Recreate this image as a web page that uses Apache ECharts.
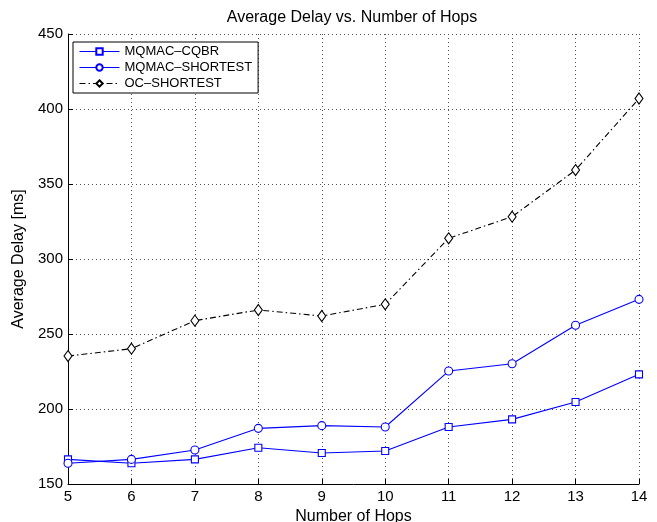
<!DOCTYPE html>
<html>
<head>
<meta charset="utf-8">
<script src="https://cdn.jsdelivr.net/npm/echarts@6/dist/echarts.min.js"></script>
<style>
  html, body { margin: 0; padding: 0; background: #fff; }
  #chart { width: 657px; height: 522px; }
</style>
</head>
<body>
<div id="chart"></div>
<script>
// Number of hops on the x axis
const hops = [5, 6, 7, 8, 9, 10, 11, 12, 13, 14];

// Average delay in ms for each scheme
const mqmacCqbr = [166.4, 163.8, 166.4, 174.2, 170.7, 172.0, 188.0, 193.1, 204.7, 223.1];
const mqmacShortest = [163.8, 166.4, 172.7, 187.1, 188.9, 188.0, 225.3, 230.2, 255.8, 273.1];
const ocShortest = [235.3, 240.2, 258.9, 266.0, 262.0, 269.8, 313.8, 328.2, 359.3, 407.0];

const seriesNames = ['MQMAC\u2013CQBR', 'MQMAC\u2013SHORTEST', 'OC\u2013SHORTEST'];

const FONT = '"Liberation Sans", Arial, Helvetica, sans-serif';
const LABEL_SIZE = 15;
const NAME_SIZE = 16;

function pairs(values) {
  return hops.map((h, i) => [h, values[i]]);
}

const gridLine = { show: true, lineStyle: { color: '#555', width: 1, type: [1, 3] } };
const innerTick = { show: true, inside: true, length: 5, lineStyle: { color: '#000' } };

const chart = echarts.init(document.getElementById('chart'), null, { renderer: 'canvas' });

chart.setOption({
  backgroundColor: '#fff',
  animation: false,
  title: {
    text: 'Average Delay vs. Number of Hops',
    left: 352,
    textAlign: 'center',
    top: 10,
    padding: 0,
    textStyle: { fontFamily: FONT, fontSize: NAME_SIZE, fontWeight: 'normal', color: '#000' }
  },
  grid: {
    left: 68, right: 18, top: 34, bottom: 38,
    outerBoundsMode: 'none',
    containLabel: false,
    show: false
  },
  legend: {
    left: 73, top: 42,
    orient: 'vertical',
    itemWidth: 40, itemHeight: 8, itemGap: 3,
    padding: [3, 6, 3, 6],
    backgroundColor: '#fff',
    borderColor: '#000', borderWidth: 1,
    borderRadius: 0,
    lineStyle: { width: 1 },
    textStyle: { fontFamily: FONT, fontSize: 13, color: '#000' },
    data: seriesNames
  },
  xAxis: {
    type: 'value', min: 5, max: 14, interval: 1,
    name: 'Number of Hops', nameLocation: 'middle', nameGap: 21,
    nameTextStyle: { fontFamily: FONT, fontSize: NAME_SIZE, color: '#000' },
    axisLine: { show: true, lineStyle: { color: '#000', width: 1 } },
    axisTick: innerTick,
    axisLabel: { fontFamily: FONT, fontSize: LABEL_SIZE, color: '#000', margin: 5 },
    splitLine: gridLine
  },
  yAxis: {
    type: 'value', min: 150, max: 450, interval: 50,
    name: 'Average Delay [ms]', nameLocation: 'middle', nameGap: 35, nameRotate: 90,
    nameTextStyle: { fontFamily: FONT, fontSize: NAME_SIZE, color: '#000' },
    axisLine: { show: true, lineStyle: { color: '#000', width: 1 } },
    axisTick: innerTick,
    axisLabel: { fontFamily: FONT, fontSize: LABEL_SIZE, color: '#000', margin: 5 },
    splitLine: gridLine
  },
  series: [
    {
      name: seriesNames[0], type: 'line', data: pairs(mqmacCqbr),
      symbol: 'rect', symbolSize: 7,
      lineStyle: { color: '#0000ff', width: 1.1 },
      itemStyle: { color: '#fff', borderColor: '#0000ff', borderWidth: 1.1 }
    },
    {
      name: seriesNames[1], type: 'line', data: pairs(mqmacShortest),
      symbol: 'circle', symbolSize: 8,
      lineStyle: { color: '#0000ff', width: 1.1 },
      itemStyle: { color: '#fff', borderColor: '#0000ff', borderWidth: 1.1 }
    },
    {
      name: seriesNames[2], type: 'line', data: pairs(ocShortest),
      symbol: 'diamond', symbolSize: [8, 11],
      lineStyle: { color: '#000', width: 1.1, type: [6, 3, 1.5, 3] },
      itemStyle: { color: '#fff', borderColor: '#000', borderWidth: 1.1 }
    }
  ]
});
</script>
</body>
</html>
